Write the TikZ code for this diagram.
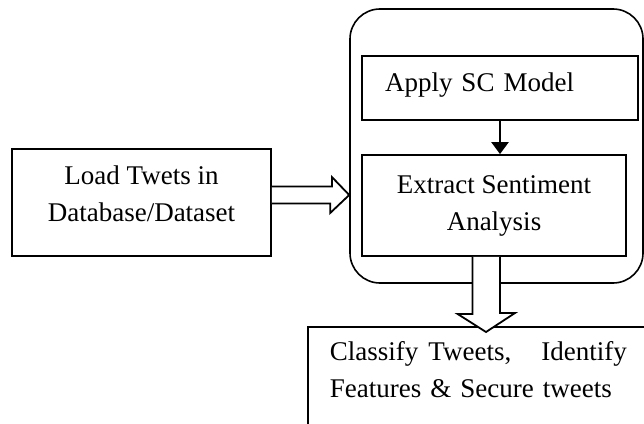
\documentclass[tikz,border=0pt]{standalone}
\usepackage{fontspec}
\setmainfont{Liberation Serif}
\usetikzlibrary{arrows.meta,calc}

\begin{document}
\begin{tikzpicture}[
  x=1pt,y=-1pt,
  box/.style={draw,line width=1.8pt,align=center,inner sep=0pt,
    font=\fontsize{27}{37}\selectfont},
  leftbox/.style={box,align=left,inner xsep=23pt},
  outer/.style={draw,line width=1.6pt,rounded corners=30pt},
  hollow/.style={draw,fill=white,line width=1.8pt,line join=miter},
  arr/.style={-{Triangle[length=12pt,width=17pt]},line width=2.4pt}
]
\clip (0,0) rectangle (644,423);
\node[outer,minimum width=293pt,minimum height=274pt] (sc) at (496.5,146) {};
\node[box,minimum width=259pt,minimum height=107pt,text depth=18pt] (load)
  at (141.5,202.5) {Load Twets in\\Database/Dataset};
\node[leftbox,text width=230pt,minimum height=64pt,text depth=12pt] (apply)
  at (500,88) {Apply SC Model};
\node[box,minimum width=264pt,minimum height=101pt] (extract) at (494,205.5)
  {Extract Sentiment\\Analysis};
\node[box,align=left,anchor=north west,text width=297pt,inner xsep=22pt,
  inner ysep=15pt,text depth=70pt] (out) at (307,326)
  {Classify\hspace{10pt}Tweets,\hfill Identify\\Features \& Secure tweets\hfill};
% block arrows
\coordinate (tipA) at ($(load.east -| sc.west)+(0,-7.5)$);
\coordinate (tipB) at ($(extract.south |- out.north)+(-8,6)$);
\draw[hollow] ($(load.east)+(0,-16)$) -- ++(60,0) -- ++(0,-9.5) -- (tipA)
  -- ($(tipA)+(-19,18)$) -- ++(0,-9.5) -- ($(load.east)+(0,1)$);
\draw[hollow] ($(extract.south)+(-21.5,0)$) -- ++(0,57) -- ++(-15,0) -- (tipB)
  -- ++(29,-19) -- ++(-15,0) -- ($(extract.south)+(6,0)$);
\draw[arr] (apply.south) -- (apply.south |- extract.north);
\end{tikzpicture}
\end{document}
